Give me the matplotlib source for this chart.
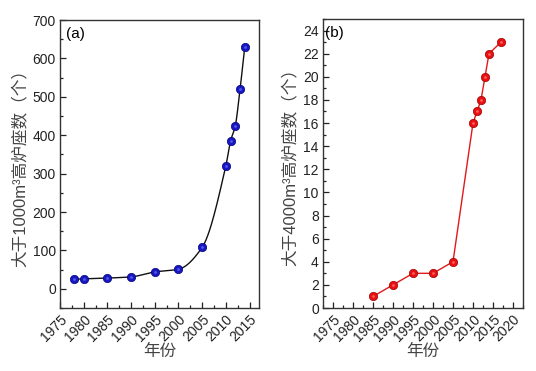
# Two panels: count of blast furnaces > 1000 m3 and > 4000 m3 by year
import numpy as np
import matplotlib.pyplot as plt
from matplotlib.ticker import MultipleLocator

plt.rcParams["font.family"] = ["Liberation Sans", "Noto Sans CJK SC", "DejaVu Sans"]

# panel (a)
years_a = [1978, 1980, 1985, 1990, 1995, 2000, 2005, 2010, 2011, 2012, 2013, 2014]
count_a = [25, 26, 28, 31, 44, 51, 108, 320, 385, 425, 520, 630]

# panel (b)
years_b = [1985, 1990, 1995, 2000, 2005, 2010, 2011, 2012, 2013, 2014, 2017]
count_b = [1, 2, 3, 3, 4, 16, 17, 18, 20, 22, 23]

ylabel_a = "大于1000m³高炉座数（个）"
ylabel_b = "大于4000m³高炉座数（个）"
xlabel = "年份"


def pchip(x, y, xs):
    x = np.asarray(x, float)
    y = np.asarray(y, float)
    h = np.diff(x)
    d = np.diff(y) / h
    m = np.zeros_like(y)
    for k in range(1, len(x) - 1):
        if d[k - 1] * d[k] > 0:
            w1 = 2 * h[k] + h[k - 1]
            w2 = h[k] + 2 * h[k - 1]
            m[k] = (w1 + w2) / (w1 / d[k - 1] + w2 / d[k])
    m[0] = d[0]
    m[-1] = d[-1]
    idx = np.clip(np.searchsorted(x, xs) - 1, 0, len(x) - 2)
    t = (xs - x[idx]) / h[idx]
    h00 = 2 * t**3 - 3 * t**2 + 1
    h10 = t**3 - 2 * t**2 + t
    h01 = -2 * t**3 + 3 * t**2
    h11 = t**3 - t**2
    return h00 * y[idx] + h10 * h[idx] * m[idx] + h01 * y[idx + 1] + h11 * h[idx] * m[idx + 1]


def style_axis(ax):
    ax.tick_params(which="both", direction="in", top=False, right=False,
                   labelsize=10, colors="#222222", pad=3)
    ax.tick_params(which="major", length=4, width=0.9)
    ax.tick_params(which="minor", length=2.5, width=0.9)
    for s in ax.spines.values():
        s.set_linewidth(1.0)
        s.set_color("#333333")
    for lab in ax.get_xticklabels():
        lab.set_rotation(45)
        lab.set_ha("right")
        lab.set_rotation_mode("anchor")


fig = plt.figure(figsize=(5.36, 3.71), dpi=100)
ax1 = fig.add_axes([60 / 536, 63 / 371, 199 / 536, 288 / 371])
ax2 = fig.add_axes([323 / 536, 63 / 371, 200 / 536, 289 / 371])

# (a) smooth curve through the points
xs = np.linspace(years_a[0], years_a[-1], 400)
ax1.plot(xs, pchip(years_a, count_a, xs), color="#111111", lw=1.0, zorder=2)
ax1.plot(years_a, count_a, "o", ms=6, mfc="#1818c0", mec="#000080", mew=0.5, zorder=3)
ax1.plot(years_a, count_a, "o", ms=2, mfc="#7070ff", mec="none", alpha=0.7, zorder=4)
ax1.set_xlim(1975, 2017)
ax1.set_ylim(-50, 700)
ax1.xaxis.set_major_locator(MultipleLocator(5))
ax1.xaxis.set_minor_locator(MultipleLocator(2.5))
ax1.yaxis.set_major_locator(MultipleLocator(100))
ax1.yaxis.set_minor_locator(MultipleLocator(50))
ax1.set_ylabel(ylabel_a, fontsize=12, color="#444444", labelpad=3)
ax1.set_xlabel(xlabel, fontsize=12, color="#444444", labelpad=0)
ax1.text(0.03, 0.975, "(a)", transform=ax1.transAxes, fontsize=11, va="top", ha="left")
style_axis(ax1)

# (b) straight line segments
ax2.plot(years_b, count_b, "-", color="#e01a1a", lw=1.0, zorder=2)
ax2.plot(years_b, count_b, "o", ms=6, mfc="#e81010", mec="#a00000", mew=0.5, zorder=3)
ax2.plot(years_b, count_b, "o", ms=2, mfc="#ff8080", mec="none", alpha=0.7, zorder=4)
ax2.set_xlim(1972.5, 2022.5)
ax2.set_ylim(0, 25)
ax2.xaxis.set_major_locator(MultipleLocator(5))
ax2.xaxis.set_minor_locator(MultipleLocator(2.5))
ax2.yaxis.set_major_locator(MultipleLocator(2))
ax2.yaxis.set_minor_locator(MultipleLocator(1))
ax2.set_ylabel(ylabel_b, fontsize=12, color="#444444", labelpad=3)
ax2.set_xlabel(xlabel, fontsize=12, color="#444444", labelpad=0)
ax2.text(0.01, 0.975, "(b)", transform=ax2.transAxes, fontsize=11, va="top", ha="left")
style_axis(ax2)

fig.savefig("out.png", dpi=100)
